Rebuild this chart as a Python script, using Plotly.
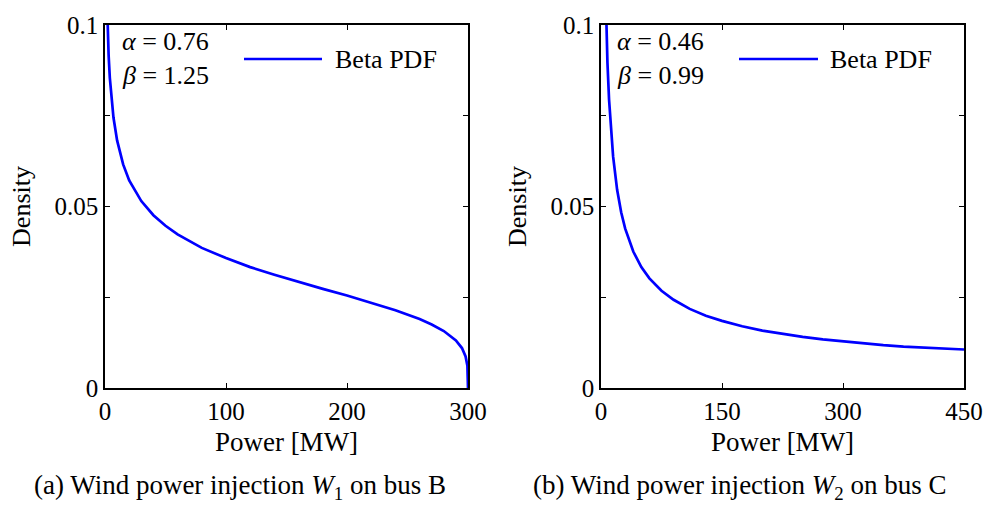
import plotly.graph_objects as go

# ---- data ----
power_a = [1.5, 2, 3, 4, 5, 7, 10, 15, 20, 30, 40, 50, 60, 80, 100, 120, 140, 160,
           180, 200, 220, 240, 260, 270, 280, 290, 295, 298, 299.5, 300]
density_a = [0.1083, 0.1011, 0.0916, 0.0854, 0.0809, 0.0745, 0.0682, 0.0616, 0.0572,
             0.0515, 0.0476, 0.0447, 0.0423, 0.0386, 0.0358, 0.0333, 0.0312, 0.0292,
             0.0273, 0.0255, 0.0235, 0.0214, 0.0190, 0.0175, 0.0157, 0.0131, 0.0110,
             0.0087, 0.0061, 0.0]

power_b = [5, 6, 8, 10, 12, 15, 20, 25, 30, 40, 50, 60, 75, 90, 110, 130, 150, 175,
           200, 225, 250, 275, 300, 325, 350, 375, 400, 425, 440, 450]
density_b = [0.1154, 0.1046, 0.0896, 0.0794, 0.0720, 0.0638, 0.0546, 0.0484, 0.0439,
             0.0376, 0.0333, 0.0302, 0.0268, 0.0243, 0.0218, 0.0199, 0.0185, 0.0170,
             0.0158, 0.0149, 0.0141, 0.0134, 0.0128, 0.0123, 0.0118, 0.0114, 0.0111,
             0.0108, 0.0107, 0.0106]

xticks_a = [0, 100, 200, 300]
xticks_b = [0, 150, 300, 450]
yticks = [0, 0.05, 0.1]
yticklabels = ["0", "0.05", "0.1"]
y_minor_step = 0.025

params_a = ["<i>α</i> = 0.76", "<i>β</i> = 1.25"]
params_b = ["<i>α</i> = 0.46", "<i>β</i> = 0.99"]
series_name = "Beta PDF"
x_title = "Power [MW]"
y_title = "Density"
caption_a = "(a) Wind power injection <i>W</i><sub>1</sub> on bus B"
caption_b = "(b) Wind power injection <i>W</i><sub>2</sub> on bus C"

W, H = 986, 508
FAMILY = "Liberation Serif, Times New Roman, serif"
FS = 25
BLUE = "#0000FF"


def px(x):
    return x / W


def py(y):
    return 1 - y / H


def font(size=FS):
    return dict(family=FAMILY, size=size, color="black")


fig = go.Figure()
fig.add_trace(go.Scatter(x=power_a, y=density_a, mode="lines", name=series_name,
                         line=dict(color=BLUE, width=2.7), xaxis="x", yaxis="y",
                         showlegend=False))
fig.add_trace(go.Scatter(x=power_b, y=density_b, mode="lines", name=series_name,
                         line=dict(color=BLUE, width=2.7), xaxis="x2", yaxis="y2",
                         showlegend=False))


def axis(**kw):
    d = dict(showline=True, linecolor="black", linewidth=1.5, mirror="ticks",
             ticks="inside", ticklen=5, tickwidth=1, tickcolor="black",
             showgrid=False, zeroline=False, tickfont=font())
    d.update(kw)
    return d


minor_y = dict(tick0=0, dtick=y_minor_step, ticks="inside", ticklen=5, tickwidth=1,
               tickcolor="black", showgrid=False)

ydom = [py(388), py(25)]
fig.update_layout(
    template="none",
    width=W, height=H, margin=dict(l=0, r=0, t=0, b=0),
    plot_bgcolor="white", paper_bgcolor="white",
    font=font(),
    xaxis=axis(domain=[px(105), px(468)], range=[0, 300], tickvals=xticks_a,
               anchor="y", title=dict(text=x_title, standoff=8, font=font(27))),
    yaxis=axis(domain=ydom, range=[0, 0.1], tickvals=yticks, ticktext=yticklabels,
               minor=minor_y, anchor="x",
               title=dict(text=y_title, standoff=16, font=font(26))),
    xaxis2=axis(domain=[px(601), px(964)], range=[0, 450], tickvals=xticks_b,
                anchor="y2", title=dict(text=x_title, standoff=8, font=font(27))),
    yaxis2=axis(domain=ydom, range=[0, 0.1], tickvals=yticks, ticktext=yticklabels,
                minor=minor_y, anchor="x2",
                title=dict(text=y_title, standoff=16, font=font(26))),
)

ann = []
for (x0, params) in [(120, params_a), (615, params_b)]:
    ann.append(dict(x=px(x0), y=py(42), xref="paper", yref="paper", text=params[0],
                    showarrow=False, xanchor="left", yanchor="middle", font=font(26)))
    ann.append(dict(x=px(x0), y=py(76), xref="paper", yref="paper", text=params[1],
                    showarrow=False, xanchor="left", yanchor="middle", font=font(26)))

# manual legends (line sample + label)
shapes = []
for (l0, l1, tx) in [(244, 322, 333), (739, 818, 828)]:
    shapes.append(dict(type="line", xref="paper", yref="paper", x0=px(l0), x1=px(l1),
                       y0=py(59), y1=py(59), line=dict(color=BLUE, width=2.7)))
    ann.append(dict(x=px(tx), y=py(59), xref="paper", yref="paper", text=series_name,
                    showarrow=False, xanchor="left", yanchor="middle", font=font(26)))

ann.append(dict(x=px(240), y=py(487), xref="paper", yref="paper", text=caption_a,
                showarrow=False, xanchor="center", yanchor="middle", font=font(27)))
ann.append(dict(x=px(740), y=py(487), xref="paper", yref="paper", text=caption_b,
                showarrow=False, xanchor="center", yanchor="middle", font=font(27)))

fig.update_layout(annotations=ann, shapes=shapes)
fig.write_html("out.html")
